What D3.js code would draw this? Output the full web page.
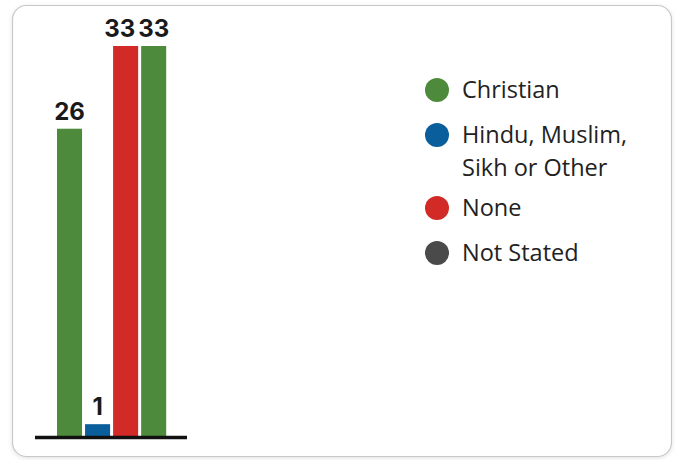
<!DOCTYPE html>
<html><head><meta charset="utf-8">
<script src="https://cdn.jsdelivr.net/npm/d3@7"></script>
<style>html,body{margin:0;padding:0;background:#fff;}svg{display:block;}</style>
</head><body>
<svg id="chart" width="680" height="460"></svg>
<script>
const categories = ["Christian", "Hindu, Muslim, Sikh or Other", "None", "Not Stated"];
const values = [26, 1, 33, 33];
const barColors = ["#4e8a3c", "#0b5e9c", "#d12a27", "#4e8a3c"];
const legendLabels = [["Christian"], ["Hindu, Muslim,", "Sikh or Other"], ["None"], ["Not Stated"]];
const legendColors = ["#4e8a3c", "#0b5e9c", "#d12a27", "#4a4a4a"];

const svg = d3.select("#chart");
const defs = svg.append("defs");
const f = defs.append("filter").attr("id","sh").attr("x","-5%").attr("y","-5%").attr("width","110%").attr("height","110%");
f.append("feDropShadow").attr("dx",0).attr("dy",1).attr("stdDeviation",2).attr("flood-color","#000").attr("flood-opacity",0.12);

svg.append("rect").attr("x",12.5).attr("y",5.5).attr("width",659).attr("height",451)
  .attr("rx",14).attr("fill","#fff").attr("stroke","#c8c8c8").attr("stroke-width",1.2).attr("filter","url(#sh)");

const x = d3.scaleBand().domain(d3.range(values.length)).range([57, 166.2]).paddingInner(0.107).paddingOuter(0);
const y = d3.scaleLinear().domain([0, 33]).range([436, 46]);

svg.append("g").selectAll("rect").data(values).join("rect")
  .attr("x",(d,i)=>x(i)).attr("width",x.bandwidth())
  .attr("y",d=>y(d)).attr("height",d=>y(0)-y(d))
  .attr("fill",(d,i)=>barColors[i]);

const labels = svg.append("g").selectAll("text").data(values).join("text")
  .attr("x",(d,i)=>x(i)+x.bandwidth()/2).attr("y",d=>y(d)-9)
  .attr("text-anchor","middle").attr("font-family","Inter, 'Open Sans', sans-serif")
  .attr("font-weight",700).attr("font-size",24).attr("fill","#1a1a1a").text(d=>d);
// nudge overlapping labels apart
const nodes = labels.nodes();
for (let i = nodes.length - 2; i >= 0; i--) {
  const a = nodes[i].getBBox(), b = nodes[i+1].getBBox();
  if (Math.abs(a.y - b.y) < 5 && a.x + a.width + 3 > b.x) {
    const shift = a.x + a.width + 3 - b.x;
    nodes[i].setAttribute("x", +nodes[i].getAttribute("x") - shift);
  }
}

svg.append("line").attr("x1",35).attr("x2",187).attr("y1",y(0)+1.5).attr("y2",y(0)+1.5)
  .attr("stroke","#111").attr("stroke-width",3.5);

const legendY = [90, 135, 208, 253];
const lg = svg.append("g");
legendLabels.forEach((lines,i)=>{
  lg.append("circle").attr("cx",437).attr("cy",legendY[i]).attr("r",12).attr("fill",legendColors[i]);
  const t = lg.append("text").attr("x",462).attr("y",legendY[i]+7.5)
    .attr("font-family","'Open Sans', sans-serif").attr("font-size",23.5).attr("fill","#222");
  lines.forEach((ln,j)=>t.append("tspan").attr("x",462).attr("dy",j?33:0).text(ln));
});
</script>
</body></html>
